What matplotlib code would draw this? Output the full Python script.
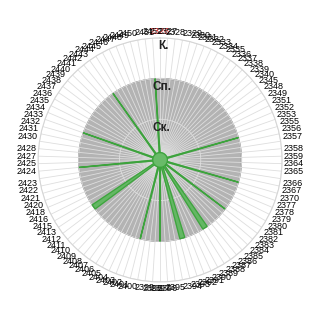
import numpy as np
import matplotlib
matplotlib.use('Agg')
import matplotlib.pyplot as plt
from matplotlib.transforms import offset_copy

plt.rcParams['font.family'] = ['Liberation Sans', 'DejaVu Sans']

# data
labels = ['2326', '2327', '2328', '2329', '2330', '2331', '2332', '2333', '2334', '2335',
          '2336', '2337', '2338', '2339', '2340', '2345', '2348', '2349', '2351', '2352',
          '2353', '2355', '2356', '2357', '2358', '2359', '2364', '2365', '2366', '2367',
          '2370', '2377', '2378', '2379', '2380', '2381', '2382', '2383', '2384', '2385',
          '2386', '2387', '2388', '2389', '2390', '2391', '2392', '2393', '2394', '2395',
          '2396', '2397', '2398', '2399', '2400', '2401', '2402', '2403', '2404', '2405',
          '2406', '2407', '2408', '2409', '2410', '2411', '2412', '2413', '2415', '2416',
          '2418', '2420', '2421', '2422', '2423', '2424', '2425', '2427', '2428', '2430',
          '2431', '2432', '2433', '2434', '2435', '2436', '2437', '2438', '2439', '2440',
          '2441', '2442', '2443', '2444', '2445', '2446', '2447', '2448', '2449', '2450',
          '2451', '2452']
highlight = '2326'
level_names = ['Ск.', 'Сп.', 'К.']
level_values = [1, 2, 3]
gray_value = 2.0
green_base = 0.18
green_high = 2.0
green_spikes = ['2355', '2370', '2382', '2387', '2388', '2392', '2393', '2397',
                '2401', '2412', '2413', '2424', '2433', '2443', '2452']

N = len(labels)
theta = np.arange(N) / N * 2 * np.pi
gray = np.full(N, gray_value)
green = np.array([green_high if l in green_spikes else green_base for l in labels])

fig = plt.figure(figsize=(3.2, 3.2), dpi=100)
ax = fig.add_axes([0.119, 0.119, 0.7625, 0.7625], projection='polar')
ax.set_theta_zero_location('N')
ax.set_theta_direction(-1)
ax.set_ylim(0, 3)

tc = np.append(theta, theta[0])
ax.fill(tc, np.append(gray, gray[0]), color='#b3b3b3', zorder=1)
ax.plot(tc, np.append(gray, gray[0]), color='#858585', lw=0.8, zorder=1.2)
ax.fill(tc, np.append(green, green[0]), color='#5cb85c', alpha=0.9, zorder=3)
ax.plot(tc, np.append(green, green[0]), color='#3da23d', lw=0.8, zorder=3.2)

ax.set_xticks(theta)
ax.set_xticklabels([])
ax.set_yticks(level_values)
ax.set_yticklabels([])
ax.grid(True, color='#dedede', lw=0.6)
ax.spines['polar'].set_color('#d6d6d6')
ax.tick_params(length=0)

for t, lab in zip(theta, labels):
    s, c = np.sin(t), np.cos(t)
    ha = 'left' if s > 0.15 else ('right' if s < -0.15 else 'center')
    va = 'bottom' if c > 0.15 else ('top' if c < -0.15 else 'center')
    tr = offset_copy(ax.transData, fig=fig, x=2 * s, y=2 * c, units='dots')
    ax.text(t, 3.0, lab, transform=tr, ha=ha, va=va, fontsize=6.5,
            color='#cc0000' if lab == highlight else 'black', clip_on=False)

for name, v in zip(level_names, level_values):
    ax.text(0.03, v - 0.06, name, ha='center', va='top', fontsize=8.5,
            fontweight='bold', color='#222222', zorder=5)

fig.savefig('out.png', dpi=100)
